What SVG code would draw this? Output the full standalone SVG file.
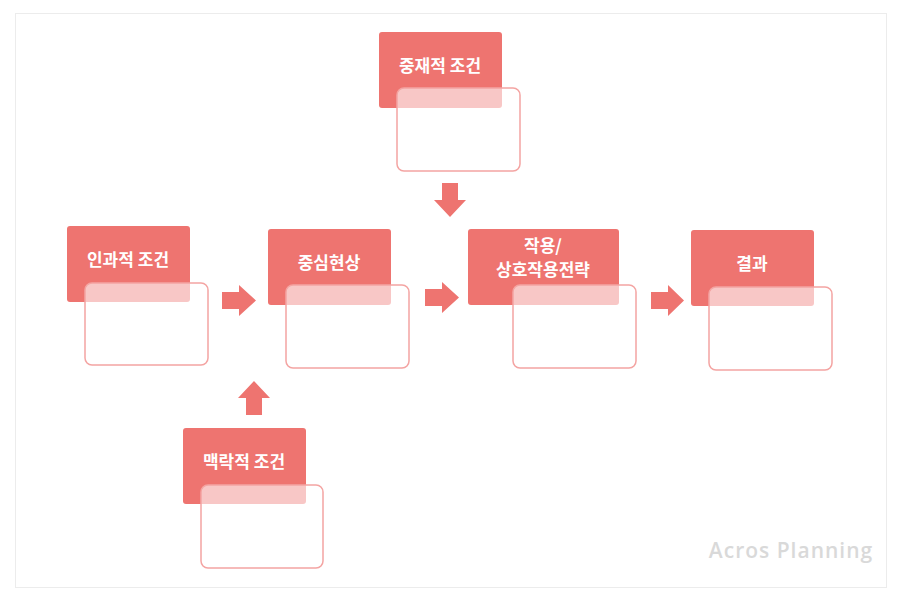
<svg xmlns="http://www.w3.org/2000/svg" width="900" height="600" viewBox="0 0 900 600">
<style>
.d{fill:#ee7470;rx:3px}
.o{fill:#fff;fill-opacity:0.6;stroke:#f4a4a2;stroke-width:1.5;rx:7px}
.t{font-family:"Noto Sans CJK KR","Noto Sans",sans-serif;font-size:17px;font-weight:bold;fill:#fff;text-anchor:middle}
.a{fill:#ee7470}
</style>
<rect x="0" y="0" width="900" height="600" fill="#fff"/>
<rect x="15.5" y="13.5" width="871" height="574" fill="none" stroke="#ececec"/>
<g id="n-cause"><rect class="d" x="67" y="226" width="123" height="76"/><text class="t" x="128" y="266">인과적 조건</text><rect class="o" x="85" y="283" width="123" height="82"/></g>
<g id="n-central"><rect class="d" x="268" y="229" width="123" height="76"/><text class="t" x="329" y="269">중심현상</text><rect class="o" x="286" y="285" width="123" height="83"/></g>
<g id="n-action"><rect class="d" x="468" y="229" width="151" height="76"/><text class="t" x="543" y="252">작용/</text><text class="t" x="543" y="276">상호작용전략</text><rect class="o" x="513" y="285" width="123" height="83"/></g>
<g id="n-result"><rect class="d" x="691" y="230" width="123" height="76"/><text class="t" x="752" y="270">결과</text><rect class="o" x="709" y="287" width="123" height="83"/></g>
<g id="n-mediating"><rect class="d" x="379" y="32" width="123" height="76"/><text class="t" x="440" y="72">중재적 조건</text><rect class="o" x="397" y="88" width="123" height="83"/></g>
<g id="n-context"><rect class="d" x="183" y="428" width="123" height="76"/><text class="t" x="244" y="468">맥락적 조건</text><rect class="o" x="201" y="485" width="122" height="83"/></g>
<g id="connectors">
<polygon class="a" points="222,292 239,292 239,285 256,300.5 239,316 239,309 222,309"/>
<polygon class="a" points="425,289 442,289 442,282 459,297.5 442,313 442,306 425,306"/>
<polygon class="a" points="651,292 668,292 668,285 684,300.5 668,316 668,309 651,309"/>
<polygon class="a" points="442,183 458,183 458,200 466,200 450,217 434,200 442,200"/>
<polygon class="a" points="246,415 262,415 262,398 270,398 254,381 238,398 246,398"/>
</g>
<text x="791" y="558" font-family="'Open Sans',sans-serif" font-size="21" font-weight="600" letter-spacing="1" fill="#d9d9d9" text-anchor="middle">Acros Planning</text>
</svg>
